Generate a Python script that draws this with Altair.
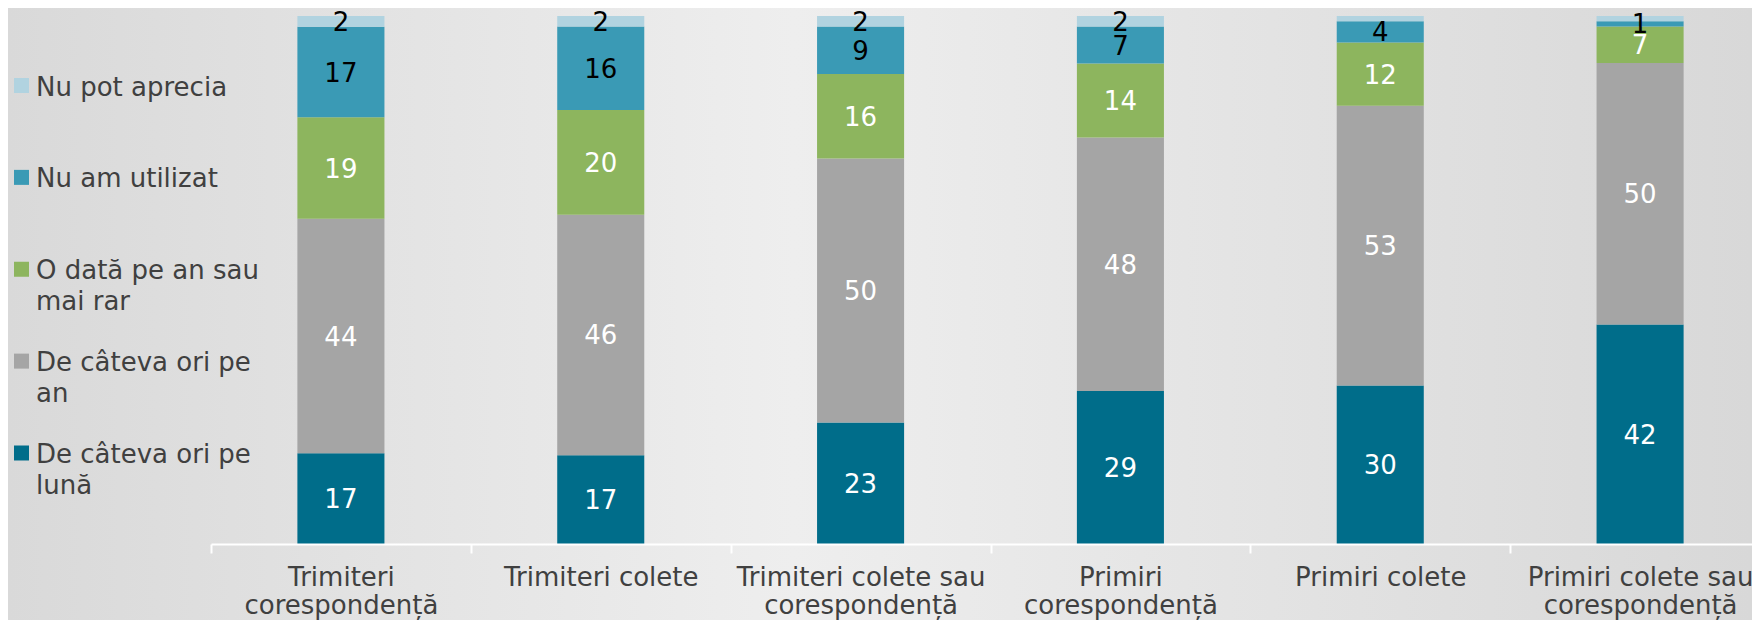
import altair as alt
import pandas as pd

# ---- data ----
categories = [
    "Trimiteri\ncorespondență",
    "Trimiteri colete",
    "Trimiteri colete sau\ncorespondență",
    "Primiri\ncorespondență",
    "Primiri colete",
    "Primiri colete sau\ncorespondență",
]
# stacking order: bottom -> top
series = [
    "De câteva ori pe lună",
    "De câteva ori pe an",
    "O dată pe an sau mai rar",
    "Nu am utilizat",
    "Nu pot aprecia",
]
legend_lines = [
    "De câteva ori pe\nlună",
    "De câteva ori pe\nan",
    "O dată pe an sau\nmai rar",
    "Nu am utilizat",
    "Nu pot aprecia",
]
colors = ["#006D8A", "#A5A5A5", "#8DB55E", "#3A9AB5", "#B1D3E0"]
label_colors = ["white", "white", "white", "black", "black"]

v_luna = [17, 17, 23, 29, 30, 42]
v_an = [44, 46, 50, 48, 53, 50]
v_rar = [19, 20, 16, 14, 12, 7]
v_nu_am = [17, 16, 9, 7, 4, 1]
v_nu_pot = [2, 2, 2, 2, 1, 1]
show_nu_pot = [True, True, True, True, False, False]

values = [v_luna, v_an, v_rar, v_nu_am, v_nu_pot]
shows = [[True] * 6, [True] * 6, [True] * 6, [True] * 6, show_nu_pot]

rows = []
for si, s in enumerate(series):
    for ci, c in enumerate(categories):
        rows.append({
            "cat": c, "series": s, "order": si,
            "value": values[si][ci], "show": shows[si][ci],
            "tc": label_colors[si],
        })
df = pd.DataFrame(rows)

FONT = "DejaVu Sans"
W = 1541          # visible plot width
XR = 1559         # band range (extends past the visible edge, like the reference)
H = 528
LEFT = 203

x_enc = alt.X(
    "cat:N", sort=categories,
    scale=alt.Scale(paddingInner=0, paddingOuter=0, range=[0, XR]),
    axis=alt.Axis(
        title=None, labelAngle=0, labelExpr="split(datum.label, '\\n')",
        labelFont=FONT, labelFontSize=26, labelColor="#404040",
        labelLineHeight=28, labelPadding=11, labelBaseline="top",
        labelLimit=600, labelOverlap=False,
        tickBand="extent", tickSize=9, tickWidth=2, tickColor="white",
        domainColor="white", domainWidth=2, grid=False, zindex=1,
    ),
)
y_scale = alt.Scale(domain=[0, 1], nice=False, zero=True)

base = alt.Chart(df).transform_stack(
    stack="value", groupby=["cat"], as_=["y0", "y1"], offset="normalize",
    sort=[alt.SortField("order", order="ascending")],
).transform_calculate(mid="(datum.y0 + datum.y1) / 2")

bars = base.mark_bar(width=alt.RelativeBandSize(0.335)).encode(
    x=x_enc,
    y=alt.Y("y0:Q", scale=y_scale, axis=None),
    y2="y1:Q",
    color=alt.Color("series:N", scale=alt.Scale(domain=series, range=colors), legend=None),
)
texts = base.transform_filter("datum.show").mark_text(
    font=FONT, fontSize=26, dy=1.5, baseline="middle", align="center"
).encode(
    x=x_enc,
    y=alt.Y("mid:Q", scale=y_scale, axis=None),
    text="value:Q",
    color=alt.Color("tc:N", scale=None),
)
main = alt.layer(bars, texts)

# ---- legend (left of the plot) ----
leg_df = pd.DataFrame({"series": series, "label": legend_lines, "col": colors})
leg_order = list(reversed(series))
ly = alt.Y("series:N", sort=leg_order, axis=None,
           scale=alt.Scale(type="point", range=[69.5, 437], padding=0))
squares = alt.Chart(leg_df).mark_square(size=225, opacity=1).encode(
    x=alt.value(13.5 - LEFT), y=ly, color=alt.Color("col:N", scale=None)
)
ltext = alt.Chart(leg_df).mark_text(
    align="left", baseline="top", dy=-11, font=FONT, fontSize=26,
    lineBreak="\n", lineHeight=31, color="#404040",
).encode(x=alt.value(28 - LEFT), y=ly, text="label:N")
legend = alt.layer(squares, ltext)

# ---- soft gradient backdrop ----
bg = alt.Chart(pd.DataFrame({"k": [0]})).mark_rect(
    color=alt.LinearGradient(
        gradient="linear", x1=0, x2=1, y1=0, y2=0,
        stops=[
            alt.GradientStop(color="#D9D9D9", offset=0),
            alt.GradientStop(color="#EEEEEE", offset=0.45),
            alt.GradientStop(color="#D8D8D8", offset=1),
        ],
    )
).encode(
    x=alt.value(-LEFT), x2=alt.value(W), y=alt.value(-8), y2=alt.value(H + 76)
)

chart = alt.layer(bg, legend, main).resolve_scale(y="independent").properties(
    width=W, height=H,
    autosize=alt.AutoSizeParams(type="none"),
    padding={"left": LEFT, "top": 8, "right": 0, "bottom": 76},
    background="#E3E3E3",
).configure_view(stroke=None)

chart.save("out.html", embed_options={"renderer": "svg", "actions": False})
